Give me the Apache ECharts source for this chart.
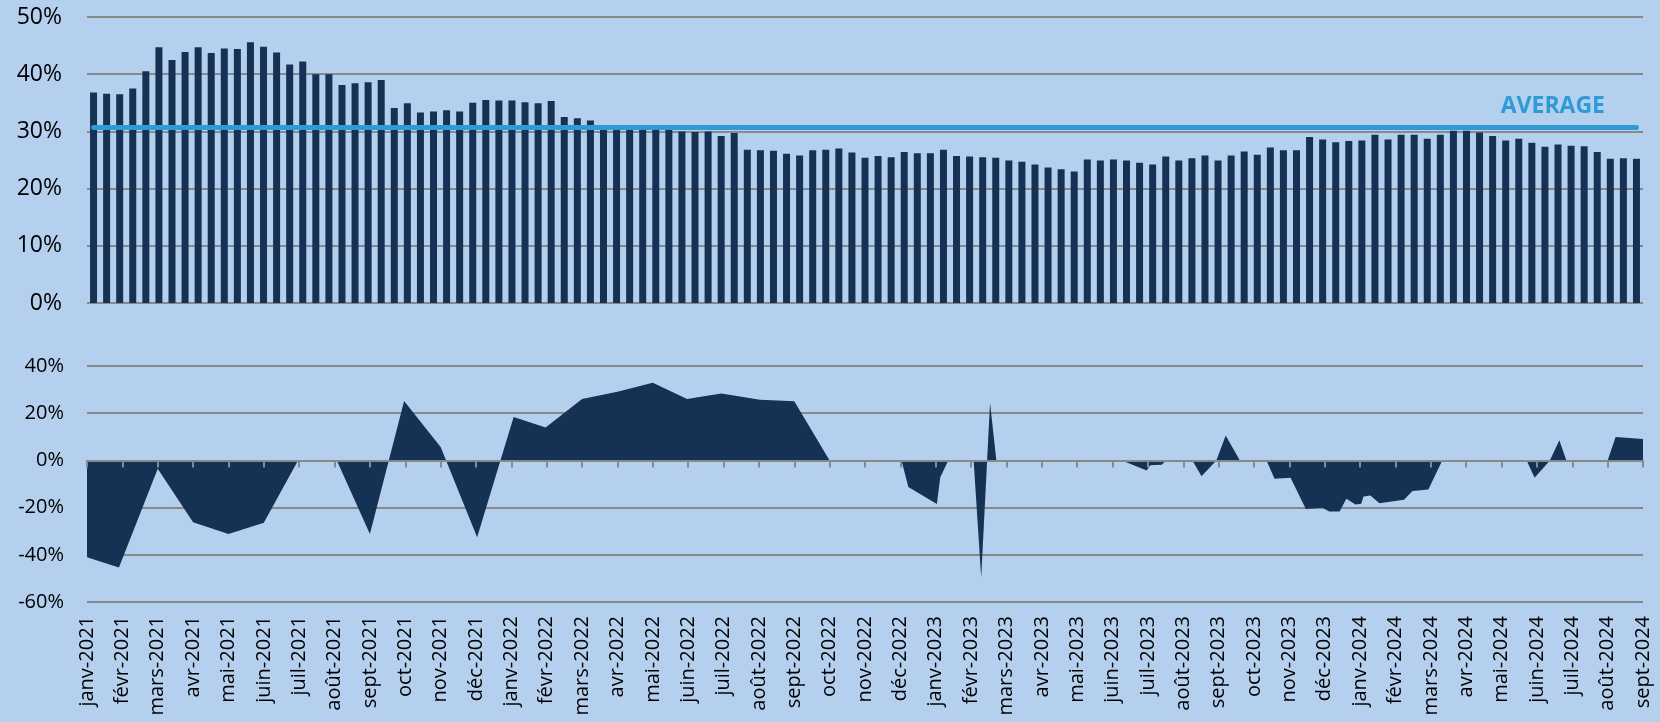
<!DOCTYPE html>
<html>
<head>
<meta charset="utf-8">
<script src="https://cdn.jsdelivr.net/npm/echarts@6/dist/echarts.min.js"></script>
<style>
html,body{margin:0;padding:0;background:#B4D0EE;}
#chart{width:1660px;height:722px;}
</style>
</head>
<body>
<div id="chart"></div>
<script>
// ---- Top panel: share values (%), one bar per period ----
const barValues = [36.8,36.6,36.5,37.5,40.5,44.7,42.5,43.9,44.7,43.7,
  44.5,44.4,45.6,44.8,43.8,41.7,42.2,40.0,40.0,38.1,
  38.4,38.6,39.0,34.1,34.9,33.3,33.5,33.7,33.5,35.0,
  35.5,35.4,35.4,35.1,34.9,35.3,32.5,32.3,31.9,30.3,
  30.3,30.3,30.3,30.3,30.3,30.0,29.9,30.0,29.2,29.7,
  26.8,26.7,26.6,26.1,25.8,26.7,26.8,27.0,26.3,25.4,
  25.7,25.5,26.4,26.2,26.2,26.8,25.7,25.6,25.5,25.4,
  24.9,24.7,24.2,23.7,23.4,23.0,25.1,24.9,25.1,24.9,
  24.5,24.2,25.6,24.9,25.3,25.8,24.9,25.8,26.5,25.9,
  27.2,26.7,26.7,29.0,28.6,28.1,28.3,28.4,29.4,28.6,
  29.4,29.4,28.7,29.4,30.1,30.1,29.8,29.2,28.4,28.7,
  28.0,27.3,27.7,27.5,27.4,26.4,25.2,25.3,25.2];
const barCategories = barValues.map((_, i) => String(i + 1));
const averageValue = 30.8;
const averageLabel = 'AVERAGE';

// ---- Bottom panel: change (%) at dates ----
const changeDates = ['2021-01-01','2021-01-29','2021-03-01','2021-04-01','2021-05-01','2021-06-01','2021-06-30','2021-08-03','2021-09-01','2021-09-30','2021-11-01','2021-12-02',
  '2022-01-03','2022-01-31','2022-03-01','2022-04-01','2022-05-01','2022-05-31','2022-06-29','2022-08-02','2022-09-01','2022-10-01','2022-12-02','2022-12-08',
  '2023-01-02','2023-01-05','2023-01-12','2023-02-03','2023-02-09','2023-02-16','2023-02-21','2023-06-09','2023-06-30','2023-07-03','2023-07-13','2023-07-17','2023-08-09','2023-08-17','2023-08-30','2023-09-07','2023-09-19','2023-10-12','2023-10-19','2023-11-02','2023-11-15','2023-11-29','2023-12-05','2023-12-14','2023-12-20','2023-12-28',
  '2024-01-02','2024-01-04','2024-01-10','2024-01-18','2024-02-08','2024-02-15','2024-02-28','2024-03-11','2024-05-23','2024-05-30','2024-06-12','2024-06-20','2024-06-26','2024-08-01','2024-08-08','2024-09-01'];
const changeValues = [-41,-45.4,-3.5,-26.2,-31.2,-26.4,0,0,-31.2,25.2,5.7,-32.6,
  18.4,13.9,26.0,29.1,32.9,26.0,28.4,25.7,25.1,0,0,-11.3,
  -18.5,-7.1,0,0,-49.6,24.4,0,0,-4.3,-2.1,-1.8,0,0,-6.7,0,10.6,0,0,-7.8,-7.4,-20.6,-20.1,-21.6,-21.7,-16.3,-18.7,
  -18.4,-15.3,-14.9,-18.2,-16.7,-13.0,-12.3,0,0,-7.4,0,8.5,0,0,9.9,9.1];

// ---- Month tick labels ----
const monthNames = ['janv','févr','mars','avr','mai','juin','juil','août','sept','oct','nov','déc'];
const startYear = 2021;
const monthCount = 44; // janv-2021 .. sept-2024
const tickLabels = [];
for (let i = 0; i <= monthCount; i++) {
  tickLabels.push(monthNames[i % 12] + '-' + (startYear + Math.floor(i / 12)));
}

// date -> fractional month index from janv-2021
function monthIndex(s) {
  const [y, m, d] = s.split('-').map(Number);
  const dim = new Date(y, m, 0).getDate();
  return (y - startYear) * 12 + (m - 1) + (d - 1) / dim;
}
const changeData = changeDates.map((d, i) => [monthIndex(d), changeValues[i]]);

const navy = '#153154';
const gridGray = '#898989';
const font = '"Open Sans", "DejaVu Sans", sans-serif';

const chart = echarts.init(document.getElementById('chart'));
chart.setOption({
  animation: false,
  backgroundColor: '#B4D0EE',
  grid: [
    {left: 87, right: 17, top: 17, height: 286},
    {left: 87, right: 17, top: 366, height: 236}
  ],
  xAxis: [
    {gridIndex: 0, type: 'category', data: barCategories, boundaryGap: true,
     axisLine: {show: false}, axisTick: {show: false}, axisLabel: {show: false}, splitLine: {show: false}},
    {gridIndex: 1, type: 'value', min: 0, max: monthCount, interval: 1, position: 'bottom', z: 5,
     axisLine: {show: true, onZero: true, lineStyle: {color: gridGray, width: 2}},
     axisTick: {show: true, length: 7, lineStyle: {color: gridGray, width: 2}},
     axisLabel: {show: false}, splitLine: {show: false}},
    {gridIndex: 1, type: 'value', min: 0, max: monthCount, interval: 1, position: 'bottom',
     axisLine: {show: false, onZero: false}, axisTick: {show: false}, splitLine: {show: false},
     axisLabel: {show: true, rotate: 90, margin: 14, fontSize: 20, fontFamily: font, color: '#000',
       showMinLabel: true, showMaxLabel: true,
       formatter: v => tickLabels[Math.round(v)] || ''}}
  ],
  yAxis: [
    {gridIndex: 0, type: 'value', min: 0, max: 50, interval: 10,
     axisLine: {show: false}, axisTick: {show: false},
     axisLabel: {formatter: '{value}%', fontSize: 23, fontFamily: font, color: '#000', margin: 25},
     splitLine: {lineStyle: {color: gridGray, width: 2}}},
    {gridIndex: 1, type: 'value', min: -60, max: 40, interval: 20,
     axisLine: {show: false}, axisTick: {show: false},
     axisLabel: {formatter: '{value}%', fontSize: 20, fontFamily: font, color: '#000', margin: 23},
     splitLine: {lineStyle: {color: gridGray, width: 2}}}
  ],
  series: [
    {type: 'bar', xAxisIndex: 0, yAxisIndex: 0, data: barValues, barWidth: 7,
     itemStyle: {color: navy},
     markLine: {silent: true, symbol: ['none', 'none'], label: {show: false},
       lineStyle: {color: '#2E9BD6', width: 5, type: 'solid', cap: 'round'},
       data: [[{xAxis: 0, yAxis: averageValue}, {xAxis: barCategories.length - 1, yAxis: averageValue}]]}},
    {type: 'line', xAxisIndex: 1, yAxisIndex: 1, data: changeData, symbol: 'none', z: 2,
     lineStyle: {width: 0, color: navy}, areaStyle: {color: navy, opacity: 1}}
  ],
  graphic: [
    {type: 'text', x: 1605, y: 106, z: 10,
     style: {text: averageLabel, fill: '#2E9BD6', font: 'bold 23px ' + font,
       align: 'right', verticalAlign: 'middle', textAlign: 'right', textVerticalAlign: 'middle'}}
  ]
});
</script>
</body>
</html>
